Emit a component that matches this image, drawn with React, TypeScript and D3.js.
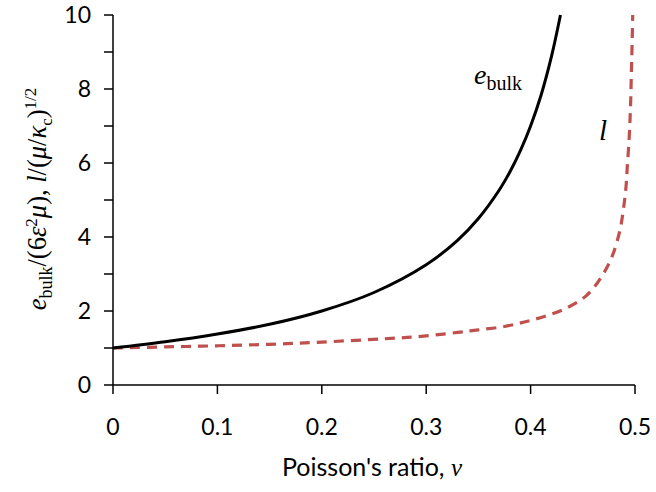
import React from "react";
import * as d3 from "d3";

// Black solid curve: e_bulk / (6 eps^2 mu)
const nuE = [0, 0.05, 0.1, 0.15, 0.2, 0.25, 0.3, 0.33, 0.35, 0.37, 0.38, 0.39, 0.4, 0.41, 0.42, 0.4286];
const eBulk = [1.0, 1.17, 1.38, 1.64, 2.0, 2.5, 3.25, 3.91, 4.5, 5.27, 5.75, 6.32, 7.0, 7.83, 8.88, 10.0];

// Red dashed curve: l / (mu/kappa_c)^(1/2)
const nuL = [0, 0.05, 0.1, 0.15, 0.2, 0.26, 0.29, 0.33, 0.35, 0.375, 0.395, 0.415, 0.436, 0.454, 0.468, 0.478, 0.4856, 0.4888, 0.4914, 0.4926, 0.4943, 0.4952, 0.4959, 0.4965, 0.4971, 0.4978];
const lVal = [1.0, 1.03, 1.06, 1.1, 1.16, 1.25, 1.3, 1.42, 1.49, 1.58, 1.71, 1.87, 2.1, 2.43, 2.93, 3.47, 4.19, 4.73, 5.36, 5.9, 6.62, 7.16, 7.7, 8.42, 9.05, 10.0];

const xTicks = [0, 0.1, 0.2, 0.3, 0.4, 0.5];
const xTickLabels = ["0", "0.1", "0.2", "0.3", "0.4", "0.5"];
const yTicks = [0, 1, 2, 3, 4, 5, 6, 7, 8, 9, 10];
const yLabelTicks = [0, 2, 4, 6, 8, 10];

const W = 656;
const H = 492;

export default function App() {
  const x = d3.scaleLinear().domain([0, 0.5]).range([113, 635]);
  const y = d3.scaleLinear().domain([0, 10]).range([385, 15]);

  const line = d3
    .line<[number, number]>()
    .x((d) => x(d[0]))
    .y((d) => y(d[1]))
    .curve(d3.curveCatmullRom.alpha(0.5));

  const eData: [number, number][] = nuE.map((v, i) => [v, eBulk[i]]);
  const lData: [number, number][] = nuL.map((v, i) => [v, lVal[i]]);

  const tickFont = "Lato, 'Open Sans', sans-serif";
  const mathFont = "'Liberation Serif', 'DejaVu Serif', serif";

  return (
    <svg
      width={W}
      height={H}
      style={{ position: "absolute", left: 0, top: 0, background: "#fff" }}
    >
      {/* curves */}
      <path d={line(lData) || ""} fill="none" stroke="#C0504D" strokeWidth={3.2} strokeDasharray="10 7" />
      <path d={line(eData) || ""} fill="none" stroke="#000" strokeWidth={3} />

      {/* axes */}
      <line x1={x(0)} x2={x(0.5)} y1={y(0)} y2={y(0)} stroke="#000" strokeWidth={1.5} />
      <line x1={x(0)} x2={x(0)} y1={y(0)} y2={y(10)} stroke="#000" strokeWidth={1.5} />
      {xTicks.map((t) => (
        <line key={"xt" + t} x1={x(t)} x2={x(t)} y1={y(0)} y2={y(0) + 9} stroke="#000" strokeWidth={1.5} />
      ))}
      {yTicks.map((t) => (
        <line key={"yt" + t} x1={x(0) - 9} x2={x(0)} y1={y(t)} y2={y(t)} stroke="#000" strokeWidth={1.5} />
      ))}
      {xTicks.map((t, i) => (
        <text key={"xl" + t} x={x(t)} y={y(0) + 50} textAnchor="middle" fontFamily={tickFont} fontSize={23} fill="#000">
          {xTickLabels[i]}
        </text>
      ))}
      {yLabelTicks.map((t) => (
        <text key={"yl" + t} x={91} y={y(t)} dy="0.36em" textAnchor="end" fontFamily={tickFont} fontSize={23} fill="#000">
          {t}
        </text>
      ))}

      {/* x axis title */}
      <text x={372} y={476} textAnchor="middle" fontFamily={tickFont} fontSize={25} fill="#000">
        Poisson's ratio,{" "}
        <tspan fontFamily={mathFont} fontStyle="italic">ν</tspan>
      </text>

      {/* y axis title */}
      <text
        transform={`translate(46, 199) rotate(-90)`}
        textAnchor="middle"
        fontFamily={mathFont}
        fontSize={26.5}
        fill="#000"
      >
        <tspan fontStyle="italic">e</tspan>
        <tspan fontSize={18} dy={6}>bulk</tspan>
        <tspan dy={-6}>/(6</tspan>
        <tspan fontStyle="italic">ε</tspan>
        <tspan fontSize={17} dy={-9}>2</tspan>
        <tspan fontStyle="italic" dy={9}>μ</tspan>
        <tspan>), </tspan>
        <tspan fontStyle="italic">l</tspan>
        <tspan>/(</tspan>
        <tspan fontStyle="italic">μ</tspan>
        <tspan>/</tspan>
        <tspan fontStyle="italic">κ</tspan>
        <tspan fontSize={17} dy={6}>c</tspan>
        <tspan dy={-6}>)</tspan>
        <tspan fontSize={17} dy={-10}>1/2</tspan>
      </text>

      {/* annotations */}
      <text x={474} y={84} fontFamily={mathFont} fontSize={28} fill="#000">
        <tspan fontStyle="italic">e</tspan>
        <tspan fontSize={20} dy={6}>bulk</tspan>
      </text>
      <text x={599} y={140} fontFamily={mathFont} fontSize={29} fontStyle="italic" fill="#000">
        l
      </text>
    </svg>
  );
}
